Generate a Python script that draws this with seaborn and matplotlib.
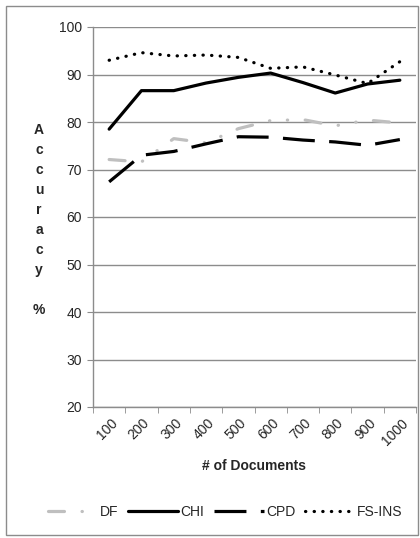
import numpy as np
import pandas as pd
import matplotlib
matplotlib.use("Agg")
import matplotlib.pyplot as plt
import matplotlib.transforms as mtransforms
from matplotlib.patches import Rectangle
import seaborn as sns

# values
docs = ["100", "200", "300", "400", "500", "600", "700", "800", "900", "1000"]
methods = ["DF", "CHI", "CPD", "FS-INS"]
df_acc = [72.1, 71.6, 76.5, 75.6, 78.6, 80.3, 80.5, 79.2, 80.4, 79.8]
chi_acc = [78.5, 86.6, 86.6, 88.2, 89.4, 90.3, 88.3, 86.1, 88.0, 88.8]
cpd_acc = [67.4, 73.0, 73.8, 75.4, 76.9, 76.8, 76.2, 75.8, 75.1, 76.3]
fsins_acc = [93.0, 94.6, 93.9, 94.1, 93.6, 91.3, 91.6, 89.9, 88.1, 92.7]

rows = []
for m, vals in zip(methods, [df_acc, chi_acc, cpd_acc, fsins_acc]):
    for d, v in zip(docs, vals):
        rows.append({"docs": d, "acc": v, "method": m})
data = pd.DataFrame(rows)

sns.set_style("white")
plt.rcParams["font.family"] = ["Liberation Sans", "DejaVu Sans"]

fig = plt.figure(figsize=(4.2, 5.38), dpi=100)
ax = fig.add_axes([93 / 420, 1 - 407 / 538, 323 / 420, 380 / 538])

palette = {"DF": "#bfbfbf", "CHI": "black", "CPD": "black", "FS-INS": "black"}
dashes = {"DF": (5, 5.5, 0.1, 5.5, 0.1, 5.5), "CHI": "", "CPD": (10, 4.5), "FS-INS": (0.1, 2.6)}
sns.lineplot(data=data, x="docs", y="acc", hue="method", style="method",
             palette=palette, dashes=dashes, linewidth=2.3, sort=False,
             legend=False, ax=ax)

lines = ax.lines[:4]
for ln, m in zip(lines, methods):
    if m in ("DF", "FS-INS"):
        ln.set_dash_capstyle("round")
    if m == "CPD":
        ln.set_dash_capstyle("butt")

ax.set_ylim(20, 100)
ax.set_xlim(-0.5, 9.5)
ax.set_yticks(np.arange(20, 101, 10))
ax.yaxis.grid(True, color="#8c8c8c", linewidth=1)
ax.xaxis.grid(False)
for s in ["top", "right"]:
    ax.spines[s].set_visible(False)
for s in ["left", "bottom"]:
    ax.spines[s].set_color("#8c8c8c")
    ax.spines[s].set_linewidth(1)

ax.set_xticks(range(len(docs)))
ax.set_xticklabels(docs, rotation=45, ha="right", va="center", rotation_mode="anchor")
ax.set_xticks(np.arange(-0.5, 9.6, 1), minor=True)
ax.tick_params(axis="x", which="major", length=0, pad=10, labelsize=10)
ax.tick_params(axis="x", which="minor", length=4, color="#8c8c8c", bottom=True)
ax.tick_params(axis="y", length=4, color="#8c8c8c", left=True, labelsize=10, pad=4)
offset = mtransforms.ScaledTranslation(6 / 100, 0, fig.dpi_scale_trans)
for lab in ax.get_xticklabels():
    lab.set_transform(lab.get_transform() + offset)

ax.set_xlabel("")
ax.set_ylabel("")
fig.text(254.5 / 420, 1 - 466 / 538, "# of Documents", ha="center", va="center",
         fontsize=10, fontweight="bold")
fig.text(39 / 420, 1 - 220 / 538, "A\nc\nc\nu\nr\na\nc\ny\n\n%", ha="center", va="center",
         fontsize=10, fontweight="bold", linespacing=1.55)

fig.legend(lines, methods, loc="center", bbox_to_anchor=(225 / 420, 1 - 512 / 538),
           ncol=4, frameon=False, fontsize=10, handlelength=3.6, handletextpad=0.15,
           columnspacing=0.7)

fig.patches.append(Rectangle((6 / 420, 3 / 538), 412 / 420, 529 / 538, transform=fig.transFigure,
                             fill=False, edgecolor="#8c8c8c", linewidth=1))

fig.savefig("out.png", dpi=100)
